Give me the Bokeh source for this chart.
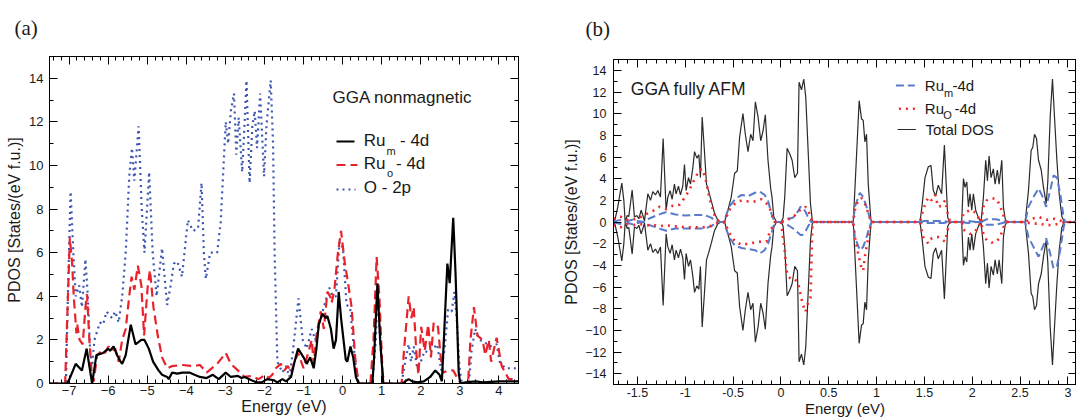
from bokeh.plotting import figure
from bokeh.layouts import row
from bokeh.models import Label, SingleIntervalTicker, LinearAxis, Range1d
from bokeh.embed import file_html
from bokeh.resources import INLINE

# ---------------- Panel (a): GGA nonmagnetic PDOS ----------------
a_rum_E = [-7.5, -7.05, -6.99, -6.83, -6.67, -6.55, -6.41, -6.30, -6.13, -6.00,
           -5.95, -5.86, -5.77, -5.68, -5.64, -5.55, -5.42, -5.30, -5.15, -5.07,
           -4.96, -4.85, -4.71, -4.62, -4.49, -4.45, -4.36, -4.23, -4.10, -3.92,
           -3.79, -3.65, -3.48, -3.32, -3.17, -2.99, -2.86, -2.68, -2.59, -2.51,
           -2.33, -2.20, -2.07, -1.93, -1.76, -1.67, -1.54, -1.45, -1.32, -1.23,
           -1.14, -1.00, -0.92, -0.83, -0.74, -0.67, -0.61, -0.52, -0.43, -0.39,
           -0.30, -0.23, -0.17, -0.10, -0.04, 0.08, 0.12, 0.20, 0.27, 0.34,
           0.41, 0.76, 0.80, 0.89, 0.96, 1.04, 1.55, 1.60, 1.69, 1.78,
           1.91, 2.08, 2.24, 2.37, 2.48, 2.54, 2.59, 2.68, 2.74, 2.83,
           2.89, 2.97, 3.01, 3.14, 3.41, 3.58, 4.02, 4.5]
a_rum = [0, 0, 0.2, 0.9, 0.6, 1.6, 0, 1.3, 1.4, 1.6,
         1.5, 1.7, 1.3, 1.0, 0.9, 1.3, 2.7, 1.8, 2.0, 2.0,
         1.6, 1.0, 0.6, 0.4, 0.3, 0.2, 0.5, 0.45, 0.5, 0.5,
         0.4, 0.3, 0.25, 0.4, 0.2, 0.5, 0.3, 0.35, 0.25, 0.3,
         0.15, 0.05, 0.05, 0.2, 0.15, 0.05, 0.2, 0.1, 0.3, 1.0,
         1.6, 1.2, 0.9, 1.2, 0.7, 1.6, 2.7, 3.2, 3.0, 3.1,
         2.5, 1.6, 2.0, 4.2, 3.0, 1.1, 1.0, 1.7, 1.2, 0.3,
         0, 0, 1.0, 4.6, 2.0, 0, 0, 0.1, 0.2, 0.1,
         0.05, 0.1, 0.3, 0.6, 0.4, 0.1, 2.0, 5.5, 4.6, 7.6,
         5.0, 0.5, 0, 0.05, 0.1, 0.05, 0.1, 0.1]

a_ruo_E = [-7.5, -7.10, -6.98, -6.92, -6.88, -6.81, -6.79, -6.73, -6.65, -6.58,
           -6.54, -6.48, -6.41, -6.37, -6.28, -6.17, -6.08, -5.99, -5.90, -5.82,
           -5.73, -5.64, -5.55, -5.46, -5.40, -5.33, -5.24, -5.15, -5.08, -4.99,
           -4.93, -4.84, -4.73, -4.62, -4.49, -4.36, -4.10, -3.83, -3.65, -3.48,
           -3.21, -2.99, -2.86, -2.68, -2.51, -2.33, -2.15, -1.98, -1.89, -1.80,
           -1.71, -1.58, -1.49, -1.40, -1.32, -1.23, -1.14, -1.00, -0.88, -0.79,
           -0.74, -0.67, -0.56, -0.48, -0.39, -0.32, -0.28, -0.21, -0.12, -0.04,
           0.05, 0.14, 0.23, 0.32, 0.41, 0.71, 0.79, 0.87, 0.94, 1.02,
           1.07, 1.51, 1.57, 1.69, 1.76, 1.82, 1.89, 1.94, 2.01, 2.10,
           2.19, 2.26, 2.33, 2.44, 2.51, 2.57, 2.70, 2.83, 2.92, 3.01,
           3.05, 3.21, 3.27, 3.36, 3.45, 3.58, 3.65, 3.74, 3.80, 3.94,
           4.07, 4.25, 4.38, 4.5]
a_ruo = [0, 0, 6.7, 5.5, 4.0, 2.3, 2.7, 2.0, 1.8, 3.5,
         4.1, 2.0, 0.2, 0.1, 1.3, 1.5, 1.4, 1.7, 1.5, 1.6,
         1.0, 2.0, 2.5, 4.0, 4.9, 4.3, 5.4, 4.5, 2.2, 4.4,
         5.2, 3.5, 2.2, 1.2, 0.7, 0.8, 0.85, 0.8, 0.85, 0.5,
         0.9, 1.4, 0.9, 0.6, 0.3, 0.35, 0.2, 0.4, 0.25, 0.4,
         0.7, 0.9, 0.6, 0.8, 0.5, 1.0, 1.4, 0.7, 1.4, 2.0,
         0.9, 2.2, 3.3, 2.5, 4.2, 4.0, 3.7, 4.3, 6.0, 7.0,
         5.6, 4.6, 3.5, 1.2, 0, 0, 2.0, 5.8, 4.0, 0.5,
         0, 0, 1.5, 4.0, 3.0, 3.5, 1.3, 0.4, 2.6, 1.5,
         2.7, 1.2, 2.8, 2.6, 1.2, 0.5, 0.6, 0.6, 0.3, 0.05,
         0, 0, 2.0, 3.5, 2.2, 2.0, 1.3, 2.0, 1.0, 2.1,
         0.8, 0.2, 0.2, 0.1]

a_o2p_E = [-7.5, -7.08, -7.03, -6.96, -6.89, -6.83, -6.74, -6.67, -6.58, -6.52,
           -6.46, -6.41, -6.35, -6.21, -6.13, -6.04, -5.90, -5.82, -5.73, -5.64,
           -5.55, -5.46, -5.39, -5.33, -5.22, -5.14, -5.07, -4.95, -4.86, -4.76,
           -4.62, -4.49, -4.40, -4.32, -4.23, -4.11, -3.96, -3.83, -3.70, -3.61,
           -3.55, -3.50, -3.39, -3.21, -3.12, -2.99, -2.93, -2.86, -2.78, -2.72,
           -2.66, -2.57, -2.52, -2.46, -2.38, -2.31, -2.25, -2.19, -2.11, -2.05,
           -2.01, -1.95, -1.84, -1.78, -1.74, -1.67, -1.54, -1.45, -1.36, -1.27,
           -1.13, -1.02, -0.92, -0.79, -0.70, -0.56, -0.34, -0.26, -0.17, -0.08,
           0.01, 0.10, 0.19, 0.32, 0.41, 0.76, 0.85, 0.89, 0.96, 1.04,
           1.51, 1.60, 1.69, 1.75, 1.82, 1.91, 2.00, 2.10, 2.22, 2.42,
           2.52, 2.61, 2.70, 2.79, 2.86, 2.92, 2.99, 3.05, 3.23, 3.30,
           3.39, 3.50, 3.63, 3.76, 3.94, 4.02, 4.16, 4.5]
a_o2p = [0, 0, 4.0, 8.8, 6.0, 4.0, 4.5, 3.5, 5.7, 4.0,
         1.5, 0.8, 2.0, 2.8, 2.7, 3.3, 3.0, 3.3, 2.8, 4.0,
         6.0, 9.5, 10.8, 9.3, 11.8, 8.0, 6.0, 9.7, 6.0, 4.0,
         6.2, 3.6, 4.5, 5.5, 5.6, 4.9, 7.5, 7.0, 7.1, 9.2,
         6.0, 4.8, 6.0, 6.0, 7.4, 12.0, 11.0, 12.5, 13.3, 10.5,
         12.2, 9.7, 11.5, 13.9, 9.2, 11.8, 12.5, 10.8, 13.3, 11.0,
         9.5, 11.8, 13.9, 11.0, 6.0, 1.0, 0.5, 0.8, 0.3, 1.5,
         3.9, 2.0, 1.6, 2.5, 2.0, 3.0, 4.4, 4.0, 4.0, 6.5,
         6.2, 3.6, 3.5, 1.0, 0, 0, 2.0, 4.4, 2.0, 0,
         0, 1.0, 1.8, 1.0, 1.7, 0.7, 1.0, 1.5, 1.4, 1.8,
         0.6, 1.6, 3.4, 3.3, 4.2, 3.0, 0.7, 0, 0, 1.5,
         2.5, 2.0, 1.9, 1.7, 1.8, 1.0, 0.7, 0.7]

# ---------------- Panel (b): GGA fully AFM (spin up > 0, spin down < 0) ----------------
b_tot_E = [-1.757, -1.740, -1.705, -1.663, -1.642, -1.628, -1.607, -1.590, -1.555, -1.531,
           -1.506, -1.485, -1.461, -1.443, -1.426, -1.391, -1.363, -1.339, -1.311, -1.287,
           -1.259, -1.231, -1.200, -1.182, -1.158, -1.137, -1.113, -1.096, -1.071, -1.050,
           -1.026, -1.008, -0.991, -0.966, -0.945, -0.921, -0.903, -0.879, -0.858, -0.841,
           -0.823, -0.799, -0.778, -0.757, -0.729, -0.694, -0.659, -0.624, -0.589,
           -0.554, -0.519, -0.484, -0.456, -0.432, -0.397, -0.372, -0.344, -0.316, -0.292,
           -0.267, -0.239, -0.211, -0.187, -0.163, -0.135, -0.107, -0.093, -0.075, -0.047, 0.005,
           0.023, 0.040, 0.065, 0.092, 0.117, 0.145, 0.173, 0.190, 0.215, 0.239, 0.260, 0.285, 0.309, 0.330,
           0.756, 0.773, 0.818, 0.843, 0.860, 0.878, 0.895, 0.913, 0.941, 0.955,
           1.454, 1.478, 1.506, 1.541, 1.569, 1.593, 1.618, 1.645, 1.680, 1.709, 1.744, 1.768,
           1.890, 1.908, 1.925, 1.943, 1.960, 1.977, 1.995, 2.012, 2.036, 2.064,
           2.092, 2.117, 2.141, 2.159, 2.176, 2.197, 2.221, 2.239, 2.263, 2.281,
           2.309, 2.326, 2.344, 2.361,
           2.553, 2.588, 2.616, 2.633, 2.651, 2.672, 2.693, 2.721, 2.745, 2.773,
           2.790, 2.815, 2.839, 2.860, 2.885, 2.909, 2.937, 2.962, 3.1]
b_tot_up = [0, 0, 1.4, 3.6, 2.0, 0, 0.6, 0.5, 2.95, 0.45,
            0.6, 0.3, 1.1, 0.6, 0.1, 2.6, 2.0, 2.8, 2.5, 2.9,
            2.3, 7.7, 1.1, 2.3, 2.9, 2.1, 3.5, 2.6, 3.3, 2.5,
            3.3, 5.3, 2.9, 4.1, 3.5, 5.0, 6.5, 5.9, 6.2, 4.1,
            9.7, 6.5, 3.5, 2.9, 2.0, 0.8, 0.15, 0, 0,
            1.1, 2.3, 4.5, 4.7, 7.8, 10.0, 8.1, 6.5, 8.1, 7.5,
            11.1, 9.7, 7.5, 8.4, 9.9, 5.7, 3.1, 2.3, 0.5, 0, 0,
            0.4, 2.3, 6.8, 6.3, 5.7, 4.1, 4.5, 12.9, 12.2, 13.2, 11.5, 6.5, 1.7, 0,
            0, 2.9, 11.2, 9.5, 9.4, 7.4, 8.1, 3.5, 0.15, 0,
            0, 1.7, 4.1, 5.1, 5.2, 2.9, 2.4, 3.4, 2.6, 7.1, 0.4, 0,
            0, 4.0, 3.2, 3.7, 1.4, 2.6, 1.1, 2.6, 1.1, 0.4,
            0, 2.3, 5.7, 3.8, 6.1, 4.1, 4.9, 3.5, 4.8, 3.5,
            5.7, 1.4, 0.3, 0,
            0, 2.9, 6.6, 6.9, 8.1, 7.7, 5.7, 4.8, 3.2, 1.7,
            3.7, 9.7, 13.2, 9.7, 5.7, 2.6, 0.5, 0, 0]
# total DOS of the AFM state is read as symmetric: the spin-down curve mirrors spin-up
b_tot_dn = [-v for v in b_tot_up]

b_rum_E = [-1.75, -1.70, -1.66, -1.60, -1.55, -1.50, -1.43, -1.37, -1.30, -1.24,
           -1.20, -1.10, -1.0, -0.9, -0.8, -0.73, -0.68, -0.64, -0.60,
           -0.54, -0.48, -0.41, -0.34, -0.27, -0.22, -0.17, -0.135, -0.10, -0.065, -0.03,
           0.0, 0.075, 0.127, 0.18, 0.205, 0.225, 0.26, 0.29, 0.32,
           0.756, 0.773, 0.825, 0.860, 0.895, 0.925, 0.945,
           1.454, 1.50, 1.60, 1.70, 1.768,
           1.890, 1.95, 2.05, 2.092, 2.15, 2.25, 2.361,
           2.553, 2.588, 2.640, 2.693, 2.738, 2.773, 2.815, 2.850, 2.885, 2.920, 2.955, 2.97, 3.1]
b_rum_up = [0, 0.15, 0.2, 0.1, 0.2, 0.1, 0, 0.35, 0.6, 0.8,
            0.9, 0.7, 0.6, 0.65, 0.65, 0.4, 0.1, 0, 0,
            1.4, 2.1, 2.5, 2.4, 2.7, 2.8, 2.5, 2.0, 0.8, 0, 0,
            0, 0.3, 0.4, 1.0, 1.4, 1.4, 0.9, 0.3, 0,
            0, 1.4, 2.7, 2.3, 1.4, 0.5, 0,
            0, 0.1, 0.1, 0.1, 0,
            0, 0.1, 0, 0, 0.25, 0.25, 0,
            0, 1.4, 2.3, 3.1, 2.3, 1.4, 2.9, 4.3, 4.1, 2.6, 0.5, 0, 0]
b_rum_dn = [0, -0.15, -0.2, -0.1, -0.2, -0.1, 0, -0.3, -0.5, -0.7,
            -0.8, -0.6, -0.6, -0.6, -0.6, -0.4, -0.1, 0, 0,
            -1.4, -2.2, -2.4, -2.5, -2.6, -2.9, -2.6, -2.0, -1.1, 0, 0,
            0, -0.3, -0.6, -1.0, -1.2, -1.2, -0.8, -0.3, 0,
            0, -1.4, -2.6, -2.3, -1.4, -0.5, 0,
            0, -0.1, -0.1, -0.1, 0,
            0, -0.1, 0, 0, -0.25, -0.25, 0,
            0, -1.4, -2.3, -3.2, -2.3, -1.5, -2.9, -4.3, -4.1, -2.6, -0.5, 0, 0]

b_ruo_E = [-1.75, -1.68, -1.61, -1.55, -1.48, -1.39, -1.32, -1.27, -1.20, -1.13,
           -1.06, -1.01, -0.96, -0.90, -0.85, -0.82, -0.78, -0.75, -0.71, -0.68,
           -0.64, -0.62, -0.59,
           -0.54, -0.48, -0.41, -0.34, -0.27, -0.205, -0.15, -0.115, -0.08, -0.065, -0.03,
           0.0, 0.04, 0.057, 0.075, 0.11, 0.145, 0.18, 0.208, 0.232, 0.257, 0.285, 0.309, 0.33,
           0.756, 0.773, 0.808, 0.843, 0.860, 0.878, 0.913, 0.945,
           1.454, 1.489, 1.541, 1.576, 1.611, 1.645, 1.680, 1.716, 1.744, 1.768,
           1.890, 1.908, 1.977, 2.030, 2.092, 2.117, 2.152, 2.204, 2.256, 2.291, 2.326, 2.361,
           2.553, 2.62, 2.70, 2.78, 2.86, 2.93, 2.962, 3.1]
b_ruo_up = [0.3, 0.5, 0.2, 0.2, 0.4, 0.8, 1.1, 1.4, 1.2, 1.5,
            1.6, 2.2, 2.9, 4.0, 4.8, 4.9, 3.7, 2.3, 1.1, 0.3,
            0, 0, 0,
            1.1, 1.7, 2.0, 1.9, 1.9, 2.1, 1.7, 1.2, 0.3, 0, 0,
            0, 0.1, 0.15, 0.2, 0.4, 0.6, 0.9, 1.2, 1.3, 1.4, 1.1, 0.5, 0,
            0, 1.1, 2.0, 2.2, 2.0, 1.7, 0.8, 0,
            0, 1.2, 2.3, 2.0, 2.5, 1.4, 1.5, 2.0, 0.8, 0,
            0, 0.8, 1.1, 0.9, 0, 1.4, 2.0, 2.2, 2.1, 1.5, 0.6, 0,
            0, 0.3, 0.45, 0.2, 0.3, 0.1, 0, 0]
b_ruo_dn = [-0.3, -0.5, -0.2, -0.3, -0.2, -0.3, -0.3, -0.4, -0.3, -0.4,
            -0.4, -0.5, -0.5, -0.5, -0.5, -0.5, -0.45, -0.4, -0.3, -0.15,
            0, 0, 0,
            -1.0, -1.8, -2.1, -2.0, -1.9, -1.8, -1.8, -0.9, -0.3, 0, 0,
            0, -2.6, -4.4, -5.0, -5.3, -5.3, -5.6, -6.8, -7.7, -8.3, -7.4, -7.0, 0,
            0, -1.4, -2.9, -4.3, -4.5, -3.2, -1.4, 0,
            0, -1.4, -2.0, -1.5, -1.4, -1.4, -1.6, -1.8, -0.7, 0,
            0, -0.7, -1.1, -0.9, 0, -1.1, -1.7, -1.9, -1.8, -1.4, -0.5, 0,
            0, -0.15, -0.15, -0.3, -0.25, -0.1, 0, 0]

for name, xs, ys in [("a_rum", a_rum_E, a_rum), ("a_ruo", a_ruo_E, a_ruo), ("a_o2p", a_o2p_E, a_o2p),
                     ("b_tot", b_tot_E, b_tot_up), ("b_rum_up", b_rum_E, b_rum_up),
                     ("b_rum_dn", b_rum_E, b_rum_dn), ("b_ruo_up", b_ruo_E, b_ruo_up),
                     ("b_ruo_dn", b_ruo_E, b_ruo_dn)]:
    if len(xs) != len(ys):
        raise SystemExit(f"length mismatch {name}: {len(xs)} vs {len(ys)}")

# ---------------- styling helpers ----------------
FONT = "Liberation Sans"
SERIF = "Liberation Serif"
TXT = "#1a1a1a"
H = 419


def make_fig(width, xr, yr, left, right, top, bottom, tag, tag_offset, tag_standoff):
    p = figure(width=width, height=H, x_range=Range1d(*xr), y_range=Range1d(*yr),
               output_backend="svg", toolbar_location=None, title=tag,
               min_border_left=left, min_border_right=right,
               min_border_top=top, min_border_bottom=bottom, frame_align=False)
    p.xgrid.visible = False
    p.ygrid.visible = False
    p.outline_line_color = "black"
    p.outline_line_width = 1
    p.background_fill_color = "white"
    p.border_fill_color = "white"
    p.title.text_font = SERIF
    p.title.text_font_size = "21px"
    p.title.text_font_style = "normal"
    p.title.text_color = TXT
    p.title.align = "left"
    p.title.vertical_align = "top"
    p.title.offset = tag_offset
    p.title.standoff = tag_standoff
    return p


def style_axis(ax, ticker, size="13px", standoff=3, show=True):
    ax.ticker = ticker
    ax.axis_line_color = "black"
    ax.major_tick_line_color = "black"
    ax.minor_tick_line_color = "black"
    ax.major_tick_in = 8
    ax.major_tick_out = 0
    ax.minor_tick_in = 4
    ax.minor_tick_out = 0
    ax.major_label_text_font = FONT
    if show:
        ax.major_label_text_color = TXT
        ax.major_label_text_font_size = size
        ax.major_label_standoff = standoff
    else:
        ax.major_label_text_color = None
        ax.major_label_standoff = 0
        ax.axis_label = None


def axis_title(ax, text, size, standoff):
    ax.axis_label = text
    ax.axis_label_text_font = FONT
    ax.axis_label_text_font_size = size
    ax.axis_label_text_font_style = "normal"
    ax.axis_label_text_color = TXT
    ax.axis_label_standoff = standoff


def frame_axes(p, xt, yt, size, xstand, ystand):
    bottom = p.xaxis[0]
    left = p.yaxis[0]
    style_axis(bottom, xt, size, xstand)
    style_axis(left, yt, size, ystand)
    top = LinearAxis()
    style_axis(top, xt, show=False)
    p.add_layout(top, "above")
    rgt = LinearAxis()
    style_axis(rgt, yt, show=False)
    p.add_layout(rgt, "right")
    return bottom, left


class Frame:
    """maps page pixels to a figure's frame (screen units) and data units"""
    def __init__(self, L, B, W, Hf, xr, yr):
        self.L, self.B, self.W, self.Hf, self.xr, self.yr = L, B, W, Hf, xr, yr

    def sx(self, px):
        return px - self.L

    def sy(self, py):
        return self.B - py

    def dx(self, px):
        return self.xr[0] + (px - self.L) / self.W * (self.xr[1] - self.xr[0])

    def dy(self, py):
        return self.yr[0] + (self.B - py) / self.Hf * (self.yr[1] - self.yr[0])


def put(p, fr, px, py, text, size, font=FONT, align="left"):
    p.add_layout(Label(x=fr.sx(px), y=fr.sy(py), x_units="screen", y_units="screen",
                       text=text, text_font=font, text_font_size=size, text_color=TXT,
                       text_align=align, text_baseline="middle"))


def sample(p, fr, px0, px1, py, **kw):
    p.line([fr.dx(px0), fr.dx(px1)], [fr.dy(py), fr.dy(py)], **kw)


# ---------------- panel (a) ----------------
xa = (-7.5, 4.5)
ya = (0, 15)
pa = make_fig(560, xa, ya, left=49, right=42, top=56, bottom=36,
              tag="(a)", tag_offset=-35, tag_standoff=30)
fa = Frame(49, 383, 469, 327, xa, ya)
ax_b, ax_l = frame_axes(pa, SingleIntervalTicker(interval=1, num_minor_ticks=5),
                        SingleIntervalTicker(interval=2, num_minor_ticks=2), "13px", 2, 6)
axis_title(ax_b, "Energy (eV)", "16px", 0)
axis_title(ax_l, "PDOS [States/(eV f.u.)]", "16px", 3)

RED_A = "#e8222b"
BLUE_A = "#3d56b0"
sty_o2p = dict(line_color=BLUE_A, line_width=2.2, line_dash="2 4")
sty_ruo = dict(line_color=RED_A, line_width=2.2, line_dash="9 5")
sty_rum = dict(line_color="black", line_width=2.2)
pa.line(a_o2p_E, a_o2p, **sty_o2p)
pa.line(a_ruo_E, a_ruo, **sty_ruo)
pa.line(a_rum_E, a_rum, **sty_rum)

put(pa, fa, 332, 97, "GGA nonmagnetic", "17px")
sample(pa, fa, 336, 354, 141, **sty_rum)
sample(pa, fa, 336, 357, 164.5, **sty_ruo)
sample(pa, fa, 336, 355, 189, **sty_o2p)
put(pa, fa, 363.3, 140, "Ru", "17px")
put(pa, fa, 386, 150.5, "m", "11px")
put(pa, fa, 399.5, 140, "- 4d", "17px")
put(pa, fa, 363.3, 163.3, "Ru", "17px")
put(pa, fa, 386.5, 172.5, "o", "11px")
put(pa, fa, 395.5, 163.3, "- 4d", "17px")
put(pa, fa, 363.3, 186.7, "O - 2p", "17px")

# ---------------- panel (b) ----------------
xb = (-1.75, 3.09)
yb = (-15, 15)
PB_OFF = 560
pb = make_fig(516, xb, yb, left=52, right=0, top=59, bottom=35,
              tag="(b)", tag_offset=-28, tag_standoff=33)
fb = Frame(612 - PB_OFF, 384, 464, 325, xb, yb)
xtb = SingleIntervalTicker(interval=0.5, num_minor_ticks=5)
bx_b, bx_l = frame_axes(pb, xtb, SingleIntervalTicker(interval=2, num_minor_ticks=2), "12.5px", 3, 7)
bx_b.major_label_overrides = {-1.5: "-1.5", -1.0: "-1", -0.5: "-0.5", 0.0: "0", 0.5: "0.5",
                              1.0: "1", 1.5: "1.5", 2.0: "2", 2.5: "2.5", 3.0: "3"}
axis_title(bx_b, "Energy (eV)", "15px", 0)
axis_title(bx_l, "PDOS [States/(eV f.u.)]", "16px", 2)

BLUE_B = "#5a7bcb"
RED_B = "#f02a2a"
sty_tot = dict(line_color="#2a2a2a", line_width=1.2)
sty_brum = dict(line_color=BLUE_B, line_width=2.0, line_dash="8 4")
sty_bruo = dict(line_color=RED_B, line_width=2.6, line_dash="2 5")
pb.line(b_tot_E, b_tot_up, **sty_tot)
pb.line(b_tot_E, b_tot_dn, **sty_tot)
pb.line(b_rum_E, b_rum_up, **sty_brum)
pb.line(b_rum_E, b_rum_dn, **sty_brum)
pb.line(b_ruo_E, b_ruo_up, **sty_bruo)
pb.line(b_ruo_E, b_ruo_dn, **sty_bruo)


def pxb(x):
    return x - PB_OFF


put(pb, fb, pxb(629.3), 88.3, "GGA fully AFM", "17.5px")
sample(pb, fb, pxb(895), pxb(914), 85, **sty_brum)
sample(pb, fb, pxb(898), pxb(916), 108.3, **sty_bruo)
sample(pb, fb, pxb(896.7), pxb(915), 129, **sty_tot)
put(pb, fb, pxb(923.3), 85, "Ru", "15px")
put(pb, fb, pxb(942.5), 92, "m", "11px")
put(pb, fb, pxb(951), 85, "-4d", "15px")
put(pb, fb, pxb(923.3), 108.3, "Ru", "15px")
put(pb, fb, pxb(941.7), 114, "O", "11px")
put(pb, fb, pxb(953), 108.3, " -4d", "15px")
put(pb, fb, pxb(924), 129, "Total DOS", "15px")

layout = row(pa, pb)
open("out.html", "w").write(file_html(layout, INLINE))
